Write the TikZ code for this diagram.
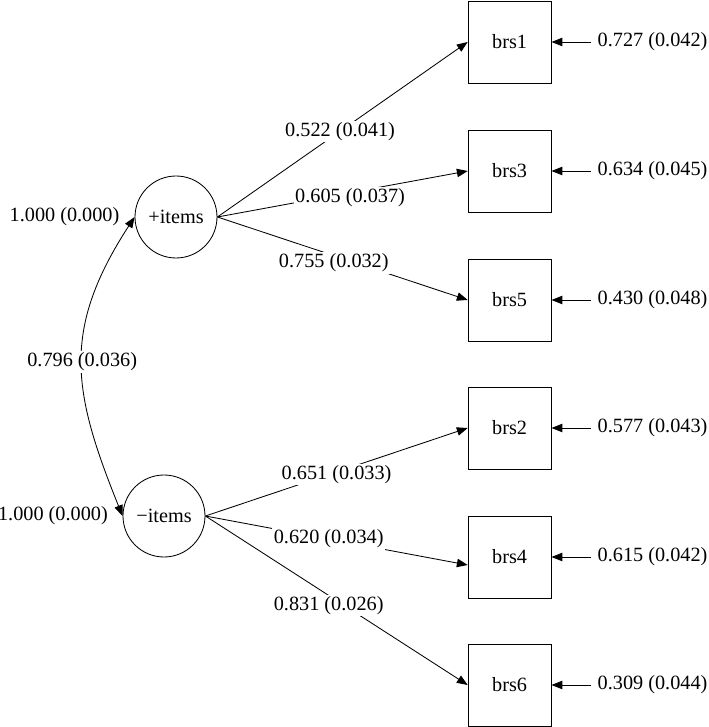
\documentclass[tikz,border=0pt]{standalone}
\usepackage{fontspec}
\setmainfont{Liberation Serif}
\usetikzlibrary{positioning,arrows.meta}
\begin{document}
\begin{tikzpicture}[font=\fontsize{14.4}{17}\selectfont, line width=0.6pt,
  >={Triangle[length=0.27cm,width=0.21cm]},
  latent/.style={draw,circle,minimum size=2.05cm,inner sep=0pt},
  item/.style={draw,rectangle,minimum width=2.075cm,minimum height=2.05cm},
  lbl/.style={fill=white,inner sep=1pt},
  resid/.style={inner sep=0.17cm}]
\useasboundingbox (0,0) rectangle (17.725,18.175);
% factors
\node[latent] (fplus) at (4.40,12.75) {+items};
\node[latent] (fminus) at (4.10,5.275) {−items};
\node[resid,left=0.2cm of fplus.west] (vplus) {1.000 (0.000)};
\node[resid,left=0.19cm of fminus.west] (vminus) {1.000 (0.000)};
% items
\node[item] (brs1) at (12.74,17.125) {brs1};
\node[item] (brs3) at (12.74,13.9) {brs3};
\node[item] (brs5) at (12.74,10.675) {brs5};
\node[item] (brs2) at (12.74,7.475) {brs2};
\node[item] (brs4) at (12.74,4.25) {brs4};
\node[item] (brs6) at (12.74,1.05) {brs6};
% residuals
\node[resid,right=0.975cm of brs1] (e1) {0.727 (0.042)};
\node[resid,right=0.975cm of brs3] (e3) {0.634 (0.045)};
\node[resid,right=0.975cm of brs5] (e5) {0.430 (0.048)};
\node[resid,right=0.975cm of brs2] (e2) {0.577 (0.043)};
\node[resid,right=0.975cm of brs4] (e4) {0.615 (0.042)};
\node[resid,right=0.975cm of brs6] (e6) {0.309 (0.044)};
\foreach \i in {1,...,6} \draw[->] (e\i) -- (brs\i);
% loadings
\draw[->] (fplus.east) -- node[lbl,pos=0.49] (l1) {0.522 (0.041)} (brs1.west);
\draw[->] (fplus.east) -- node[lbl,pos=0.53,yshift=-3.5pt] (l3) {0.605 (0.037)} (brs3.west);
\draw[->] (fplus.east) -- node[lbl,pos=0.465,yshift=-5.3pt] (l5) {0.755 (0.032)} (brs5.west);
\draw[->] (fminus.east) -- node[lbl,pos=0.5,yshift=-2pt] (l2) {0.651 (0.033)} (brs2.west);
\draw[->] (fminus.east) -- node[lbl,pos=0.47] (l4) {0.620 (0.034)} ([yshift=-0.2cm]brs4.west);
\draw[->] (fminus.east) -- node[lbl,pos=0.47,yshift=-7pt] (l6) {0.831 (0.026)} (brs6.west);
% covariance
\draw[<->] (fplus.west) to[out=237,in=112,looseness=1.15] node[lbl] (lcov) {0.796 (0.036)} (fminus.west);
\end{tikzpicture}
\end{document}
